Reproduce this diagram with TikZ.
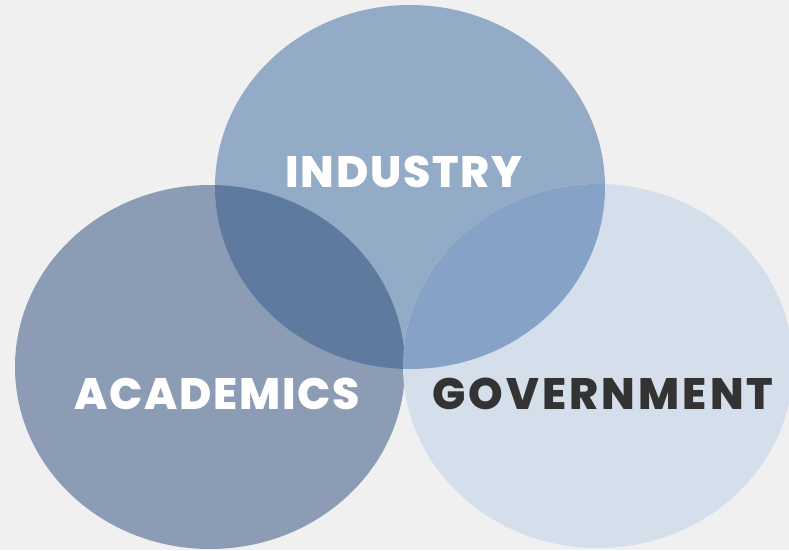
\documentclass[tikz,border=0pt]{standalone}
\usepackage{fontspec}
\setsansfont{Poppins}[BoldFont={Poppins ExtraBold}, LetterSpace=4]
\usetikzlibrary{positioning}
\usepackage{xcolor}

\definecolor{bgGray}{HTML}{F0F0F0}
\definecolor{indFill}{HTML}{94ABC7}
\definecolor{acaFill}{HTML}{8B9CB4}
\definecolor{govFill}{HTML}{D5DFEB}
\definecolor{indAcaFill}{HTML}{5F7A9F}
\definecolor{indGovFill}{HTML}{86A3C7}
\definecolor{govText}{HTML}{333333}

\begin{document}
\begin{tikzpicture}[
        x=1pt, y=-1pt,
        blob/.style={x radius=195, y radius=182},
        label/.style={font=\sffamily\bfseries\fontsize{44}{44}\selectfont, inner sep=0pt, text=white}
    ]

    % FONDO
    \fill[bgGray] (0,0) rectangle (789,550);
    \useasboundingbox (0,0) rectangle (789,550);

    % CENTROS
    \coordinate (indC) at (410,187);
    \coordinate (acaC) at (210,367);
    \coordinate (govC) at (598,366);

    % ELIPSES
    \fill[acaFill] (acaC) ellipse [blob];
    \fill[indFill] (indC) ellipse [blob];
    \fill[govFill] (govC) ellipse [blob];

    % INTERSECCIONES
    \begin{scope}
        \clip (indC) ellipse [blob];
        \fill[indAcaFill] (acaC) ellipse [blob];
        \fill[indGovFill] (govC) ellipse [blob];
    \end{scope}

    % ETIQUETAS
    \node[label] (indLbl) at (404,172) {INDUSTRY};
    \node[label] (acaLbl) at (217,394) {ACADEMICS};
    \node[label, text=govText] (govLbl) at (603,394) {\addfontfeatures{LetterSpace=7}GOVERNMENT};
\end{tikzpicture}
\end{document}
